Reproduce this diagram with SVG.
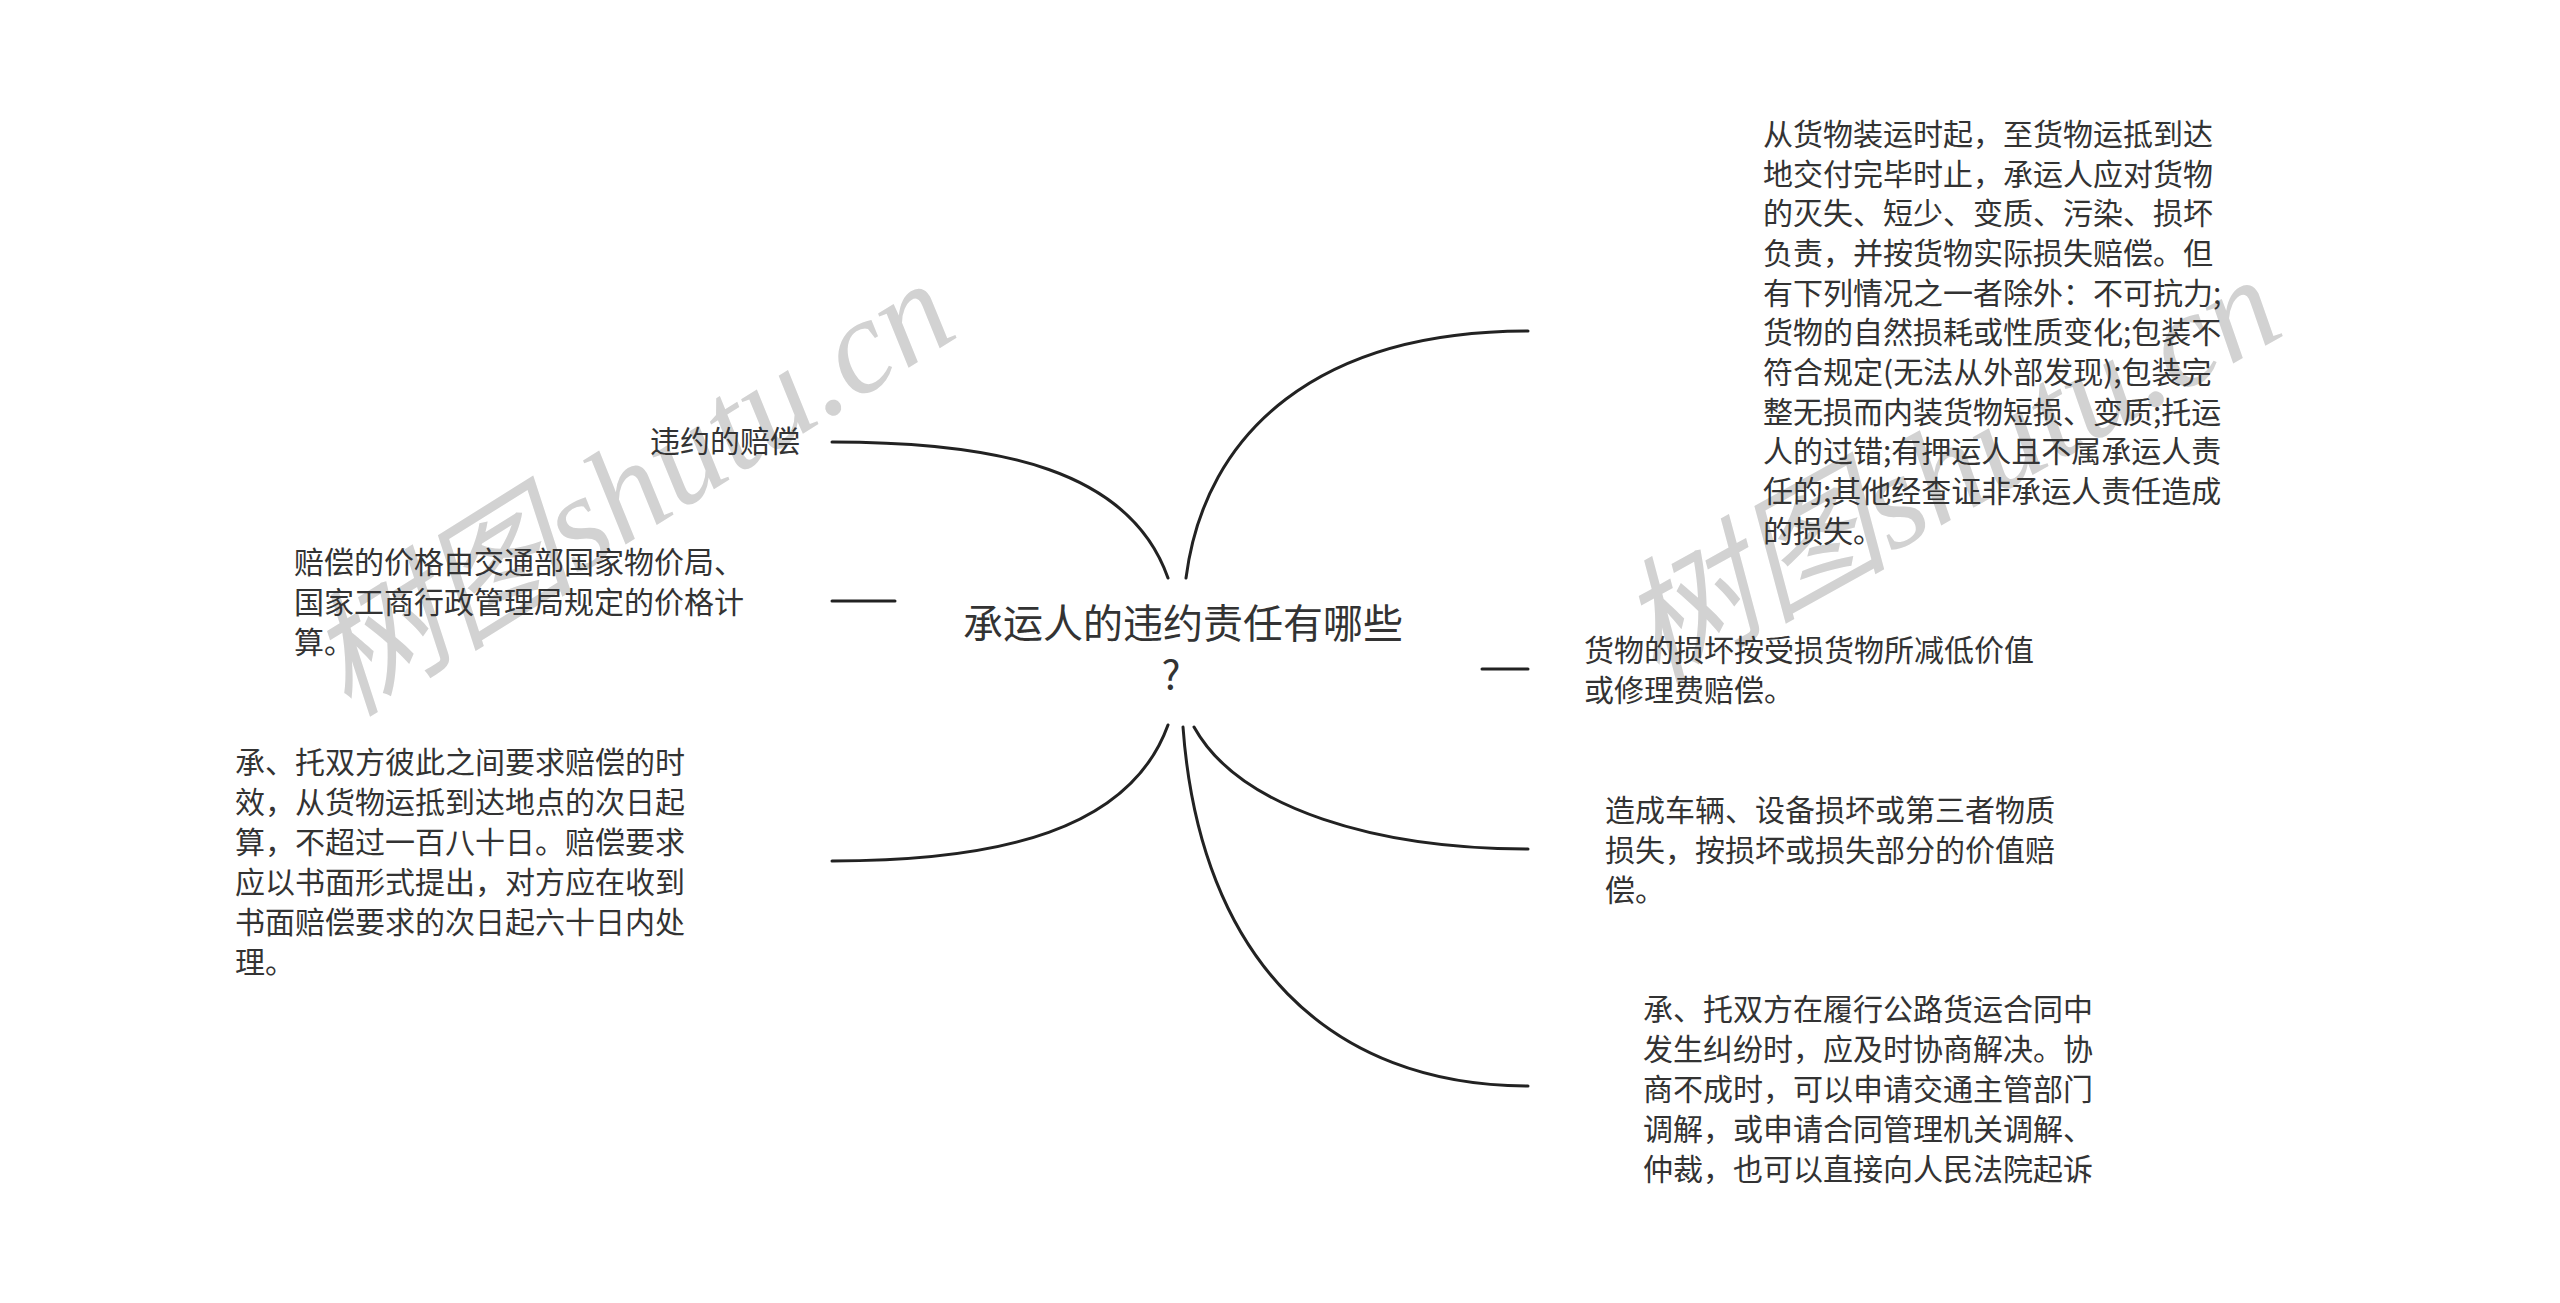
<svg xmlns="http://www.w3.org/2000/svg" width="2560" height="1303" viewBox="0 0 2560 1303">
<style>
.bg{fill:#ffffff}
.t{font-family:"Noto Sans CJK SC","Noto Sans",sans-serif;font-size:30px;fill:#333333}
.c{font-family:"Noto Sans CJK SC","Noto Sans",sans-serif;font-size:40px;fill:#333333}
.wm{font-family:"Liberation Serif","Noto Sans CJK SC",serif;font-style:italic;font-size:135px;fill:#d2d2d2}
.ln{fill:none;stroke:#222222;stroke-width:3;stroke-linecap:round}
</style>
<rect class="bg" x="0" y="0" width="2560" height="1303"/>
<g id="watermarks">
<text class="wm" transform="translate(348,718) rotate(-32)">树图shutu.cn</text>
<text class="wm" transform="translate(1655,684) rotate(-29)">树图shutu.cn</text>
</g>
<g id="connectors">
<path class="ln" d="M1168,578 C1130,470 1000,442 832,442"/>
<path class="ln" d="M832,601 L895,601"/>
<path class="ln" d="M1168,725 C1130,830 1000,861 832,861"/>
<path class="ln" d="M1186,578 C1205,430 1320,331 1528,331"/>
<path class="ln" d="M1482,669 L1528,669"/>
<path class="ln" d="M1194,727 C1240,810 1380,849 1528,849"/>
<path class="ln" d="M1183,727 C1200,960 1330,1086 1528,1086"/>
</g>
<g id="center">
<text class="c" x="963" y="638">承运人的违约责任有哪些</text>
<text class="c" x="1171" y="689" text-anchor="middle">?</text>
</g>
<g id="node-r1">
<text class="t" x="1763" y="145">从货物装运时起，至货物运抵到达</text>
<text class="t" x="1763" y="185">地交付完毕时止，承运人应对货物</text>
<text class="t" x="1763" y="224">的灭失、短少、变质、污染、损坏</text>
<text class="t" x="1763" y="264">负责，并按货物实际损失赔偿。但</text>
<text class="t" x="1763" y="304">有下列情况之一者除外：不可抗力;</text>
<text class="t" x="1763" y="343">货物的自然损耗或性质变化;包装不</text>
<text class="t" x="1763" y="383">符合规定(无法从外部发现);包装完</text>
<text class="t" x="1763" y="423">整无损而内装货物短损、变质;托运</text>
<text class="t" x="1763" y="462">人的过错;有押运人且不属承运人责</text>
<text class="t" x="1763" y="502">任的;其他经查证非承运人责任造成</text>
<text class="t" x="1763" y="542">的损失。</text>
</g>
<g id="node-r2">
<text class="t" x="1584" y="661">货物的损坏按受损货物所减低价值</text>
<text class="t" x="1584" y="701">或修理费赔偿。</text>
</g>
<g id="node-r3">
<text class="t" x="1605" y="821">造成车辆、设备损坏或第三者物质</text>
<text class="t" x="1605" y="861">损失，按损坏或损失部分的价值赔</text>
<text class="t" x="1605" y="901">偿。</text>
</g>
<g id="node-r4">
<text class="t" x="1643" y="1020">承、托双方在履行公路货运合同中</text>
<text class="t" x="1643" y="1060">发生纠纷时，应及时协商解决。协</text>
<text class="t" x="1643" y="1100">商不成时，可以申请交通主管部门</text>
<text class="t" x="1643" y="1140">调解，或申请合同管理机关调解、</text>
<text class="t" x="1643" y="1180">仲裁，也可以直接向人民法院起诉</text>
</g>
<g id="node-l1">
<text class="t" x="650" y="452">违约的赔偿</text>
</g>
<g id="node-l2">
<text class="t" x="294" y="573">赔偿的价格由交通部国家物价局、</text>
<text class="t" x="294" y="613">国家工商行政管理局规定的价格计</text>
<text class="t" x="294" y="653">算。</text>
</g>
<g id="node-l3">
<text class="t" x="235" y="773">承、托双方彼此之间要求赔偿的时</text>
<text class="t" x="235" y="813">效，从货物运抵到达地点的次日起</text>
<text class="t" x="235" y="853">算，不超过一百八十日。赔偿要求</text>
<text class="t" x="235" y="893">应以书面形式提出，对方应在收到</text>
<text class="t" x="235" y="933">书面赔偿要求的次日起六十日内处</text>
<text class="t" x="235" y="973">理。</text>
</g>
</svg>
